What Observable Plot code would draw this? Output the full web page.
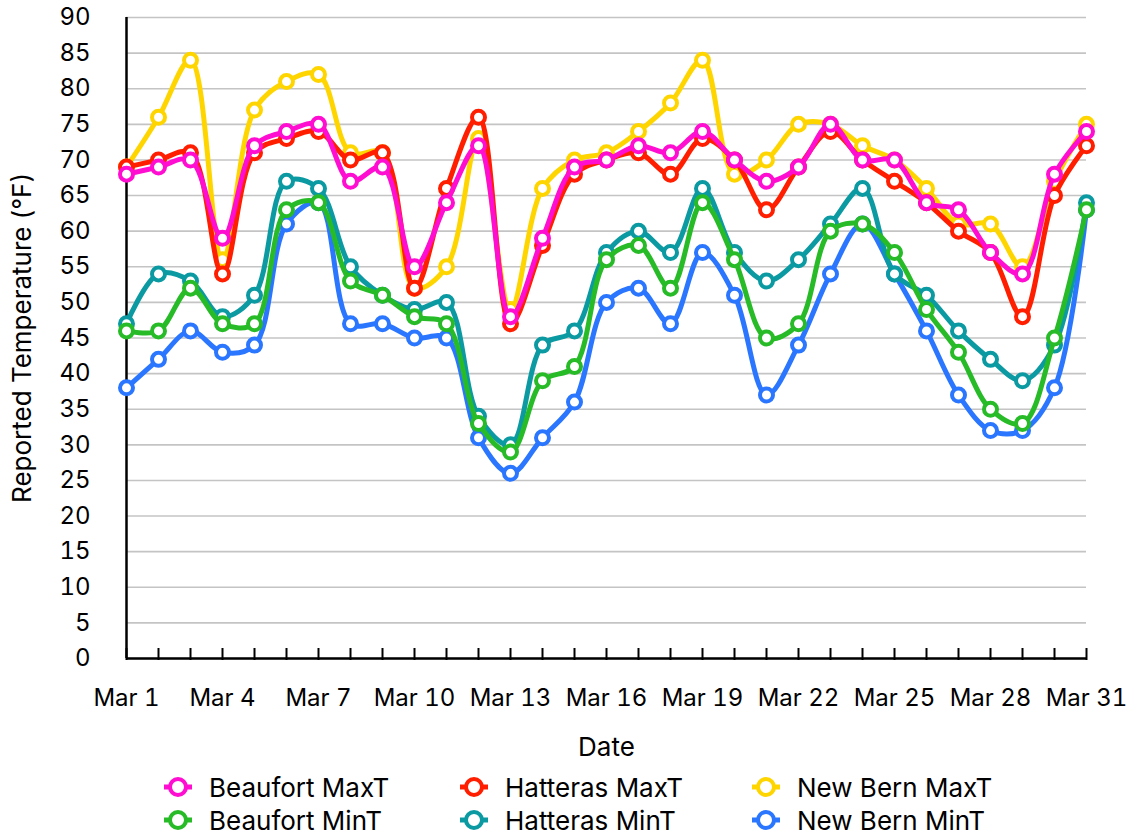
<!DOCTYPE html>
<html><head><meta charset="utf-8">
<script src="https://cdn.jsdelivr.net/npm/d3@7"></script>
<script src="https://cdn.jsdelivr.net/npm/@observablehq/plot@0.6"></script>
<style>
body{margin:0;background:#fff;font-family:Inter,"Noto Sans",sans-serif;}
#wrap{position:relative;width:1133px;height:838px;overflow:hidden;}
.leg{position:absolute;display:flex;align-items:center;font-size:26px;color:#000;white-space:nowrap;}
.leg svg{margin-right:16px;}
</style></head><body><div id="wrap"></div>
<script>
const days = d3.range(1, 32);
const yTicks = d3.range(0, 91, 5);
const xLabelTicks = d3.range(1, 32, 3);

const beaufortMax = [68,69,70,59,72,74,75,67,69,55,64,72,48,59,69,70,72,71,74,70,67,69,75,70,70,64,63,57,54,68,74];
const hatterasMax = [69,70,71,54,71,73,74,70,71,52,66,76,47,58,68,70,71,68,73,70,63,69,74,70,67,64,60,57,48,65,72];
const newBernMax  = [69,76,84,56,77,81,82,71,71,52,55,73,49,66,70,71,74,78,84,68,70,75,75,72,70,66,61,61,55,67,75];
const beaufortMin = [46,46,52,47,47,63,64,53,51,48,47,33,29,39,41,56,58,52,64,56,45,47,60,61,57,49,43,35,33,45,63];
const hatterasMin = [47,54,53,48,51,67,66,55,51,49,50,34,30,44,46,57,60,57,66,57,53,56,61,66,54,51,46,42,39,44,64];
const newBernMin  = [38,42,46,43,44,61,64,47,47,45,45,31,26,31,36,50,52,47,57,51,37,44,54,61,54,46,37,32,32,38,63];

const seriesNames = ["Beaufort MaxT","Hatteras MaxT","New Bern MaxT","Beaufort MinT","Hatteras MinT","New Bern MinT"];
const seriesValues = [beaufortMax, hatterasMax, newBernMax, beaufortMin, hatterasMin, newBernMin];
const seriesColors = ["#ff0dd0","#ff1f00","#ffd500","#27bb27","#0b9aa2","#2a76ff"];

const font = 'Inter, "Noto Sans", sans-serif';
const fs = 24;

const seriesMarks = [];
for (let s = seriesNames.length - 1; s >= 0; s--) {
  const vals = seriesValues[s];
  const rows = days.map((d, i) => ({day: d, value: vals[i]}));
  seriesMarks.push(Plot.line(rows, {x: "day", y: "value", curve: "catmull-rom", stroke: seriesColors[s], strokeWidth: 5}));
  seriesMarks.push(Plot.dot(rows, {x: "day", y: "value", r: 6.5, fill: "white", stroke: seriesColors[s], strokeWidth: 4}));
}

const chart = Plot.plot({
  width: 1133,
  height: 768,
  marginLeft: 126,
  marginRight: 47,
  marginTop: 17,
  marginBottom: 110,
  style: {fontFamily: font, fontSize: fs + "px", background: "white", color: "black"},
  x: {domain: [1, 31]},
  y: {domain: [0, 90]},
  marks: [
    Plot.gridY(yTicks, {stroke: "#c4c4c4", strokeOpacity: 1, strokeWidth: 1.6}),
    Plot.axisY(yTicks, {tickSize: 0, tickPadding: 36, fontSize: fs, label: null}),
    Plot.axisX(days, {tickSize: 12, dy: -10, tickFormat: () => "", strokeWidth: 2, label: null}),
    Plot.axisX(xLabelTicks, {tickSize: 0, tickPadding: 30, tickFormat: d => `Mar ${d}`, fontSize: fs, label: null}),
    Plot.ruleX([1], {stroke: "black", strokeWidth: 2.5}),
    Plot.ruleY([0], {stroke: "black", strokeWidth: 2.5}),
    Plot.text(["Date"], {frameAnchor: "bottom", dy: 89, lineAnchor: "middle", fontSize: 26, fill: "black"}),
    Plot.text(["Reported Temperature (°F)"], {frameAnchor: "left", dx: -104, rotate: -90, textAnchor: "middle", lineAnchor: "middle", fontSize: 26, fill: "black"}),
    ...seriesMarks
  ]
});
const wrap = document.getElementById("wrap");
wrap.appendChild(chart);

const legendCols = [163, 459, 751];
const legendRows = [787, 820];
seriesNames.forEach((name, i) => {
  const col = i % 3, row = Math.floor(i / 3);
  const item = document.createElement("div");
  item.className = "leg";
  item.style.left = legendCols[col] + "px";
  item.style.top = (legendRows[row] - 16) + "px";
  item.style.height = "32px";
  item.innerHTML = `<svg width="30" height="24"><line x1="1" x2="29" y1="12" y2="12" stroke="${seriesColors[i]}" stroke-width="5"/><circle cx="15" cy="12" r="8" fill="white" stroke="${seriesColors[i]}" stroke-width="4"/></svg><span>${name}</span>`;
  wrap.appendChild(item);
});
</script>
</body></html>
